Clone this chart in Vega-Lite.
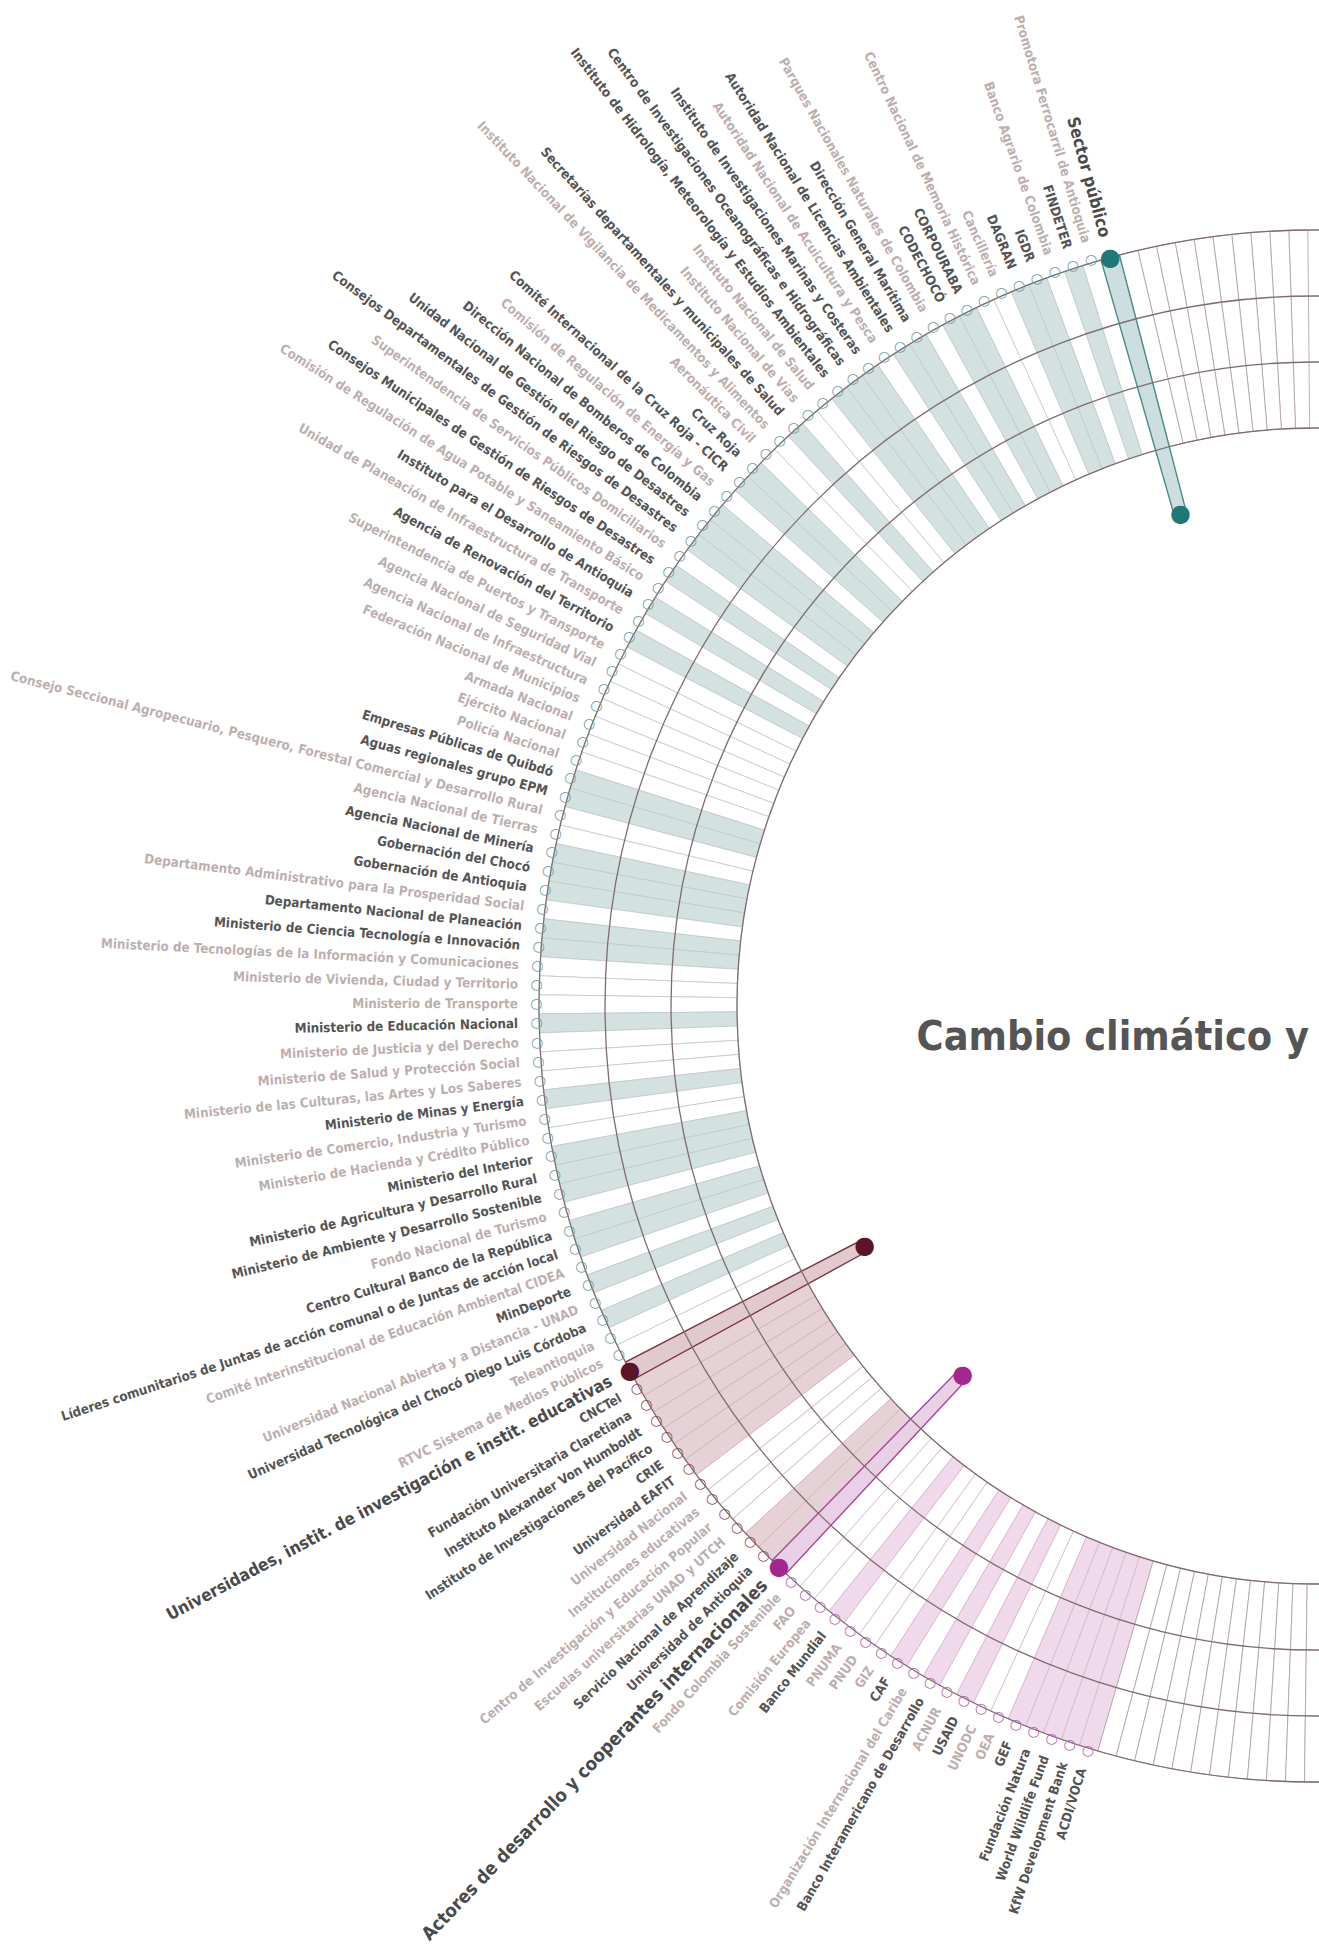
{
  "$schema": "https://vega.github.io/schema/vega-lite/v6.json",
  "width": 2630,
  "height": 2012,
  "padding": 0,
  "autosize": "none",
  "background": "#ffffff",
  "config": {"view": {"stroke": null}},
  "data": {"values": [
    {"i":0,"n":"","g":"U","t":"U"},{"i":1,"n":"","g":"U","t":"U"},{"i":2,"n":"","g":"U","t":"U"},{"i":3,"n":"","g":"U","t":"U"},{"i":4,"n":"","g":"U","t":"U"},
    {"i":5,"n":"","g":"U","t":"U"},{"i":6,"n":"","g":"U","t":"U"},{"i":7,"n":"","g":"U","t":"U"},{"i":8,"n":"","g":"U","t":"U"},{"i":9,"n":"","g":"U","t":"U"},
    {"i":10,"n":"Sector público","g":"SP","t":"G"},
    {"i":11,"n":"Promotora Ferrocarril de Antioquia","g":"SP","t":"L"},
    {"i":12,"n":"FINDETER","g":"SP","t":"D"},
    {"i":13,"n":"Banco Agrario de Colombia","g":"SP","t":"L"},
    {"i":14,"n":"IGDR","g":"SP","t":"D"},
    {"i":15,"n":"DAGRAN","g":"SP","t":"D"},
    {"i":16,"n":"Cancillería","g":"SP","t":"L"},
    {"i":17,"n":"Centro Nacional de Memoria Histórica","g":"SP","t":"L"},
    {"i":18,"n":"CORPOURABA","g":"SP","t":"D"},
    {"i":19,"n":"CODECHOCÓ","g":"SP","t":"D"},
    {"i":20,"n":"Parques Nacionales Naturales de Colombia","g":"SP","t":"L"},
    {"i":21,"n":"Dirección General Marítima","g":"SP","t":"D"},
    {"i":22,"n":"Autoridad Nacional de Licencias Ambientales","g":"SP","t":"D"},
    {"i":23,"n":"Autoridad Nacional de Acuicultura y Pesca","g":"SP","t":"L"},
    {"i":24,"n":"Instituto de Investigaciones Marinas y Costeras","g":"SP","t":"D"},
    {"i":25,"n":"Centro de Investigaciones Oceanográficas e Hidrográficas","g":"SP","t":"D"},
    {"i":26,"n":"Instituto de Hidrología, Meteorología y Estudios Ambientales","g":"SP","t":"D"},
    {"i":27,"n":"Instituto Nacional de Salud","g":"SP","t":"L"},
    {"i":28,"n":"Instituto Nacional de Vías","g":"SP","t":"L"},
    {"i":29,"n":"Secretarías departamentales y municipales de Salud","g":"SP","t":"D"},
    {"i":30,"n":"Instituto Nacional de Vigilancia de Medicamentos y Alimentos","g":"SP","t":"L"},
    {"i":31,"n":"Aeronáutica Civil","g":"SP","t":"L"},
    {"i":32,"n":"Cruz Roja","g":"SP","t":"D"},
    {"i":33,"n":"Comité Internacional de la Cruz Roja - CICR","g":"SP","t":"D"},
    {"i":34,"n":"Comisión de Regulación de Energía y Gas","g":"SP","t":"L"},
    {"i":35,"n":"Dirección Nacional de Bomberos de Colombia","g":"SP","t":"D"},
    {"i":36,"n":"Unidad Nacional de Gestión del Riesgo de Desastres","g":"SP","t":"D"},
    {"i":37,"n":"Consejos Departamentales de Gestión de Riesgos de Desastres","g":"SP","t":"D"},
    {"i":38,"n":"Superintendencia de Servicios Públicos Domiciliarios","g":"SP","t":"L"},
    {"i":39,"n":"Consejos Municipales de Gestión de Riesgos de Desastres","g":"SP","t":"D"},
    {"i":40,"n":"Comisión de Regulación de Agua Potable y Saneamiento Básico","g":"SP","t":"L"},
    {"i":41,"n":"Instituto para el Desarrollo de Antioquia","g":"SP","t":"D"},
    {"i":42,"n":"Unidad de Planeación de Infraestructura de Transporte","g":"SP","t":"L"},
    {"i":43,"n":"Agencia de Renovación del Territorio","g":"SP","t":"D"},
    {"i":44,"n":"Superintendencia de Puertos y Transporte","g":"SP","t":"L"},
    {"i":45,"n":"Agencia Nacional de Seguridad Vial","g":"SP","t":"L"},
    {"i":46,"n":"Agencia Nacional de Infraestructura","g":"SP","t":"L"},
    {"i":47,"n":"Federación Nacional de Municipios","g":"SP","t":"L"},
    {"i":48,"n":"Armada Nacional","g":"SP","t":"L"},
    {"i":49,"n":"Ejército Nacional","g":"SP","t":"L"},
    {"i":50,"n":"Policía Nacional","g":"SP","t":"L"},
    {"i":51,"n":"Empresas Públicas de Quibdó","g":"SP","t":"D"},
    {"i":52,"n":"Aguas regionales grupo EPM","g":"SP","t":"D"},
    {"i":53,"n":"Consejo Seccional Agropecuario, Pesquero, Forestal Comercial y Desarrollo Rural","g":"SP","t":"L"},
    {"i":54,"n":"Agencia Nacional de Tierras","g":"SP","t":"L"},
    {"i":55,"n":"Agencia Nacional de Minería","g":"SP","t":"D"},
    {"i":56,"n":"Gobernación del Chocó","g":"SP","t":"D"},
    {"i":57,"n":"Gobernación de Antioquia","g":"SP","t":"D"},
    {"i":58,"n":"Departamento Administrativo para la Prosperidad Social","g":"SP","t":"L"},
    {"i":59,"n":"Departamento Nacional de Planeación","g":"SP","t":"D"},
    {"i":60,"n":"Ministerio de Ciencia Tecnología e Innovación","g":"SP","t":"D"},
    {"i":61,"n":"Ministerio de Tecnologías de la Información y Comunicaciones","g":"SP","t":"L"},
    {"i":62,"n":"Ministerio de Vivienda, Ciudad y Territorio","g":"SP","t":"L"},
    {"i":63,"n":"Ministerio de Transporte","g":"SP","t":"L"},
    {"i":64,"n":"Ministerio de Educación Nacional","g":"SP","t":"D"},
    {"i":65,"n":"Ministerio de Justicia y del Derecho","g":"SP","t":"L"},
    {"i":66,"n":"Ministerio de Salud y Protección Social","g":"SP","t":"L"},
    {"i":67,"n":"Ministerio de las Culturas, las Artes y Los Saberes","g":"SP","t":"L"},
    {"i":68,"n":"Ministerio de Minas y Energía","g":"SP","t":"D"},
    {"i":69,"n":"Ministerio de Comercio, Industria y Turismo","g":"SP","t":"L"},
    {"i":70,"n":"Ministerio de Hacienda y Crédito Público","g":"SP","t":"L"},
    {"i":71,"n":"Ministerio del Interior","g":"SP","t":"D"},
    {"i":72,"n":"Ministerio de Agricultura y Desarrollo Rural","g":"SP","t":"D"},
    {"i":73,"n":"Ministerio de Ambiente y Desarrollo Sostenible","g":"SP","t":"D"},
    {"i":74,"n":"Fondo Nacional de Turismo","g":"SP","t":"L"},
    {"i":75,"n":"Centro Cultural Banco de la República","g":"SP","t":"D"},
    {"i":76,"n":"Líderes comunitarios de Juntas de acción comunal o de Juntas de acción local","g":"SP","t":"D"},
    {"i":77,"n":"Comité Interinstitucional de Educación Ambiental CIDEA","g":"SP","t":"L"},
    {"i":78,"n":"MinDeporte","g":"SP","t":"D"},
    {"i":79,"n":"Universidad Nacional Abierta y a Distancia - UNAD","g":"SP","t":"L"},
    {"i":80,"n":"Universidad Tecnológica del Chocó Diego Luis Córdoba","g":"SP","t":"D"},
    {"i":81,"n":"Teleantioquia","g":"SP","t":"L"},
    {"i":82,"n":"RTVC Sistema de Medios Públicos","g":"SP","t":"L"},
    {"i":83,"n":"Universidades, instit. de investigación  e instit. educativas","g":"UN","t":"G"},
    {"i":84,"n":"CNCTel","g":"UN","t":"D"},
    {"i":85,"n":"Fundación Universitaria Claretiana","g":"UN","t":"D"},
    {"i":86,"n":"Instituto Alexander Von Humboldt","g":"UN","t":"D"},
    {"i":87,"n":"Instituto de Investigaciones del Pacífico","g":"UN","t":"D"},
    {"i":88,"n":"CRIE","g":"UN","t":"D"},
    {"i":89,"n":"Universidad EAFIT","g":"UN","t":"D"},
    {"i":90,"n":"Universidad Nacional","g":"UN","t":"L"},
    {"i":91,"n":"Instituciones educativas","g":"UN","t":"L"},
    {"i":92,"n":"Centro de Investigación y Educación Popular","g":"UN","t":"L"},
    {"i":93,"n":"Escuelas universitarias UNAD y UTCH","g":"UN","t":"L"},
    {"i":94,"n":"Servicio Nacional de Aprendizaje","g":"UN","t":"D"},
    {"i":95,"n":"Universidad de Antioquia","g":"UN","t":"D"},
    {"i":96,"n":"Actores de desarrollo y cooperantes internacionales","g":"AD","t":"G"},
    {"i":97,"n":"Fondo Colombia Sostenible","g":"AD","t":"L"},
    {"i":98,"n":"FAO","g":"AD","t":"L"},
    {"i":99,"n":"Comisión Europea","g":"AD","t":"L"},
    {"i":100,"n":"Banco Mundial","g":"AD","t":"D"},
    {"i":101,"n":"PNUMA","g":"AD","t":"L"},
    {"i":102,"n":"PNUD","g":"AD","t":"L"},
    {"i":103,"n":"GIZ","g":"AD","t":"L"},
    {"i":104,"n":"CAF","g":"AD","t":"D"},
    {"i":105,"n":"Organización Internacional del Caribe","g":"AD","t":"L"},
    {"i":106,"n":"Banco Interamericano de Desarrollo","g":"AD","t":"D"},
    {"i":107,"n":"ACNUR","g":"AD","t":"L"},
    {"i":108,"n":"USAID","g":"AD","t":"D"},
    {"i":109,"n":"UNODC","g":"AD","t":"L"},
    {"i":110,"n":"OEA","g":"AD","t":"L"},
    {"i":111,"n":"GEF","g":"AD","t":"D"},
    {"i":112,"n":"Fundación Natura","g":"AD","t":"D"},
    {"i":113,"n":"World Wildlife Fund","g":"AD","t":"D"},
    {"i":114,"n":"KfW Development Bank","g":"AD","t":"D"},
    {"i":115,"n":"ACDI/VOCA","g":"AD","t":"D"},
    {"i":116,"n":"","g":"U","t":"U"},{"i":117,"n":"","g":"U","t":"U"},{"i":118,"n":"","g":"U","t":"U"},{"i":119,"n":"","g":"U","t":"U"},
    {"i":120,"n":"","g":"U","t":"U"},{"i":121,"n":"","g":"U","t":"U"},{"i":122,"n":"","g":"U","t":"U"},{"i":123,"n":"","g":"U","t":"U"},
    {"i":124,"n":"","g":"U","t":"U"},{"i":125,"n":"","g":"U","t":"U"},{"i":126,"n":"","g":"U","t":"U"},{"i":127,"n":"","g":"U","t":"U"}
  ]},
  "layer": [
    {
      "mark": {"type": "arc", "strokeWidth": 0.8},
      "encoding": {
        "theta": {"aggregate": "count", "type": "quantitative", "stack": true, "scale": {"domain": [0, 128], "range": [6.27394, 3.13059]}},
        "order": {"field": "i", "type": "quantitative"},
        "detail": [{"field": "i", "type": "quantitative"}, {"field": "g", "type": "nominal"}, {"field": "t", "type": "nominal"}],
        "radius": {"datum": 3, "type": "quantitative", "scale": {"type": "linear", "domain": [0, 3], "range": [578, 776], "zero": false}},
        "radius2": {"datum": 0},
        "fill": {"condition": [
          {"test": "datum.t == 'D' && datum.g == 'SP'", "value": "#d3e1e1"},
          {"test": "datum.t == 'D' && datum.g == 'UN'", "value": "#e6d2d6"},
          {"test": "datum.t == 'D' && datum.g == 'AD'", "value": "#efd9eb"}
        ], "value": "#ffffff"},
        "stroke": {"condition": [
          {"test": "datum.g == 'SP'", "value": "#c2c8c8"},
          {"test": "datum.g == 'UN'", "value": "#cdb0b6"},
          {"test": "datum.g == 'AD'", "value": "#d5b5ce"}
        ], "value": "#ab9d9e"}
      }
    },
    {
      "mark": {"type": "arc", "strokeWidth": 1.4, "fillOpacity": 0.85},
      "encoding": {
        "theta": {"aggregate": "count", "type": "quantitative", "stack": true, "scale": {"domain": [0, 128], "range": [6.27394, 3.13059]}},
        "order": {"field": "i", "type": "quantitative"},
        "detail": [{"field": "i", "type": "quantitative"}, {"field": "g", "type": "nominal"}, {"field": "t", "type": "nominal"}],
        "radius": {"datum": 3, "type": "quantitative", "scale": {"type": "linear", "domain": [0, 3], "range": [578, 776], "zero": false}},
        "radius2": {"datum": -1.03},
        "fill": {"condition": [
          {"test": "datum.t == 'G' && datum.g == 'SP'", "value": "#c3d8d9"},
          {"test": "datum.t == 'G' && datum.g == 'UN'", "value": "#dcc1c6"},
          {"test": "datum.t == 'G' && datum.g == 'AD'", "value": "#e6c8e2"}
        ], "value": "transparent"},
        "stroke": {"condition": [
          {"test": "datum.t == 'G' && datum.g == 'SP'", "value": "#4b8c89"},
          {"test": "datum.t == 'G' && datum.g == 'UN'", "value": "#7a3645"},
          {"test": "datum.t == 'G' && datum.g == 'AD'", "value": "#a54a98"}
        ], "value": "transparent"}
      }
    },
    {
      "data": {"values": [{}]},
      "mark": {"type": "arc", "filled": false, "stroke": "#7f6c6e", "strokeWidth": 1.3},
      "encoding": {
        "theta": {"datum": -1, "type": "quantitative", "scale": {"domain": [0, 128], "range": [6.27394, 3.13059]}},
        "theta2": {"datum": 129},
        "radius": {"datum": 3, "type": "quantitative", "scale": {"type": "linear", "domain": [0, 3], "range": [578, 776], "zero": false}},
        "radius2": {"datum": 3}
      }
    },
    {
      "data": {"values": [{}]},
      "mark": {"type": "arc", "filled": false, "stroke": "#7f6c6e", "strokeWidth": 1.3},
      "encoding": {
        "theta": {"datum": -1, "type": "quantitative", "scale": {"domain": [0, 128], "range": [6.27394, 3.13059]}},
        "theta2": {"datum": 129},
        "radius": {"datum": 2, "type": "quantitative", "scale": {"type": "linear", "domain": [0, 3], "range": [578, 776], "zero": false}},
        "radius2": {"datum": 2}
      }
    },
    {
      "data": {"values": [{}]},
      "mark": {"type": "arc", "filled": false, "stroke": "#7f6c6e", "strokeWidth": 1.3},
      "encoding": {
        "theta": {"datum": -1, "type": "quantitative", "scale": {"domain": [0, 128], "range": [6.27394, 3.13059]}},
        "theta2": {"datum": 129},
        "radius": {"datum": 1, "type": "quantitative", "scale": {"type": "linear", "domain": [0, 3], "range": [578, 776], "zero": false}},
        "radius2": {"datum": 1}
      }
    },
    {
      "data": {"values": [{}]},
      "mark": {"type": "arc", "filled": false, "stroke": "#7f6c6e", "strokeWidth": 1.3},
      "encoding": {
        "theta": {"datum": -1, "type": "quantitative", "scale": {"domain": [0, 128], "range": [6.27394, 3.13059]}},
        "theta2": {"datum": 129},
        "radius": {"datum": 0, "type": "quantitative", "scale": {"type": "linear", "domain": [0, 3], "range": [578, 776], "zero": false}},
        "radius2": {"datum": 0}
      }
    },
    {
      "mark": {"type": "text", "font": "DejaVu Sans", "fontSize": 14, "align": "center", "baseline": "middle"},
      "encoding": {
        "theta": {"aggregate": "count", "type": "quantitative", "stack": true, "scale": {"domain": [0, 128], "range": [6.27394, 3.13059]}},
        "order": {"field": "i", "type": "quantitative"},
        "detail": [{"field": "i", "type": "quantitative"}, {"field": "g", "type": "nominal"}, {"field": "t", "type": "nominal"}],
        "radius": {"datum": 3.04, "type": "quantitative", "scale": {"type": "linear", "domain": [0, 3], "range": [578, 776], "zero": false}},
        "text": {"condition": {"test": "datum.g == 'U' || datum.t == 'G'", "value": ""}, "value": "○"},
        "color": {"condition": [
          {"test": "datum.g == 'SP'", "value": "#6f9da0"},
          {"test": "datum.g == 'UN'", "value": "#8e4a5b"},
          {"test": "datum.g == 'AD'", "value": "#b466a9"}
        ], "value": "transparent"}
      }
    },
    {
      "mark": {"type": "text", "font": "DejaVu Sans", "fontSize": 24, "align": "center", "baseline": "middle"},
      "encoding": {
        "theta": {"aggregate": "count", "type": "quantitative", "stack": true, "scale": {"domain": [0, 128], "range": [6.27394, 3.13059]}},
        "order": {"field": "i", "type": "quantitative"},
        "detail": [{"field": "i", "type": "quantitative"}, {"field": "g", "type": "nominal"}, {"field": "t", "type": "nominal"}],
        "radius": {"datum": 3, "type": "quantitative", "scale": {"type": "linear", "domain": [0, 3], "range": [578, 776], "zero": false}},
        "text": {"condition": {"test": "datum.t == 'G'", "value": "●"}, "value": ""},
        "color": {"condition": [
          {"test": "datum.g == 'SP'", "value": "#1f7875"},
          {"test": "datum.g == 'UN'", "value": "#5c1528"},
          {"test": "datum.g == 'AD'", "value": "#a4268f"}
        ], "value": "transparent"}
      }
    },
    {
      "mark": {"type": "text", "font": "DejaVu Sans", "fontSize": 24, "align": "center", "baseline": "middle"},
      "encoding": {
        "theta": {"aggregate": "count", "type": "quantitative", "stack": true, "scale": {"domain": [0, 128], "range": [6.27394, 3.13059]}},
        "order": {"field": "i", "type": "quantitative"},
        "detail": [{"field": "i", "type": "quantitative"}, {"field": "g", "type": "nominal"}, {"field": "t", "type": "nominal"}],
        "radius": {"datum": -1.03, "type": "quantitative", "scale": {"type": "linear", "domain": [0, 3], "range": [578, 776], "zero": false}},
        "text": {"condition": {"test": "datum.t == 'G'", "value": "●"}, "value": ""},
        "color": {"condition": [
          {"test": "datum.g == 'SP'", "value": "#1f7875"},
          {"test": "datum.g == 'UN'", "value": "#5c1528"},
          {"test": "datum.g == 'AD'", "value": "#a4268f"}
        ], "value": "transparent"}
      }
    },
    {
      "mark": {"type": "text", "font": "DejaVu Sans Condensed, sans-serif", "fontWeight": "bold", "align": "right", "baseline": "middle"},
      "encoding": {
        "theta": {"aggregate": "count", "type": "quantitative", "stack": true, "scale": {"domain": [0, 128], "range": [6.27394, 3.13059]}},
        "order": {"field": "i", "type": "quantitative"},
        "detail": [{"field": "i", "type": "quantitative"}, {"field": "g", "type": "nominal"}, {"field": "t", "type": "nominal"}],
        "radius": {"datum": 3.32, "type": "quantitative", "scale": {"type": "linear", "domain": [0, 3], "range": [578, 776], "zero": false}},
        "text": {"field": "n", "type": "nominal"},
        "angle": {"field": "i", "type": "quantitative", "scale": {"domain": [0, 128], "range": [88.77, -91.33]}},
        "size": {"condition": [
          {"test": "datum.t == 'G' && datum.g == 'AD'", "value": 18.5},
          {"test": "datum.t == 'G'", "value": 17}
        ], "value": 13.3},
        "color": {"condition": [
          {"test": "datum.t == 'G'", "value": "#4a4a4a"},
          {"test": "datum.t == 'D'", "value": "#545454"}
        ], "value": "#bdafaf"}
      }
    },
    {
      "data": {"values": [{}]},
      "mark": {"type": "text", "text": "Cambio climático y", "font": "DejaVu Sans Condensed, sans-serif", "fontWeight": "bold", "fontSize": 41, "align": "right", "baseline": "alphabetic", "dx": -6, "dy": 44, "color": "#555555"},
      "encoding": {}
    }
  ]
}
